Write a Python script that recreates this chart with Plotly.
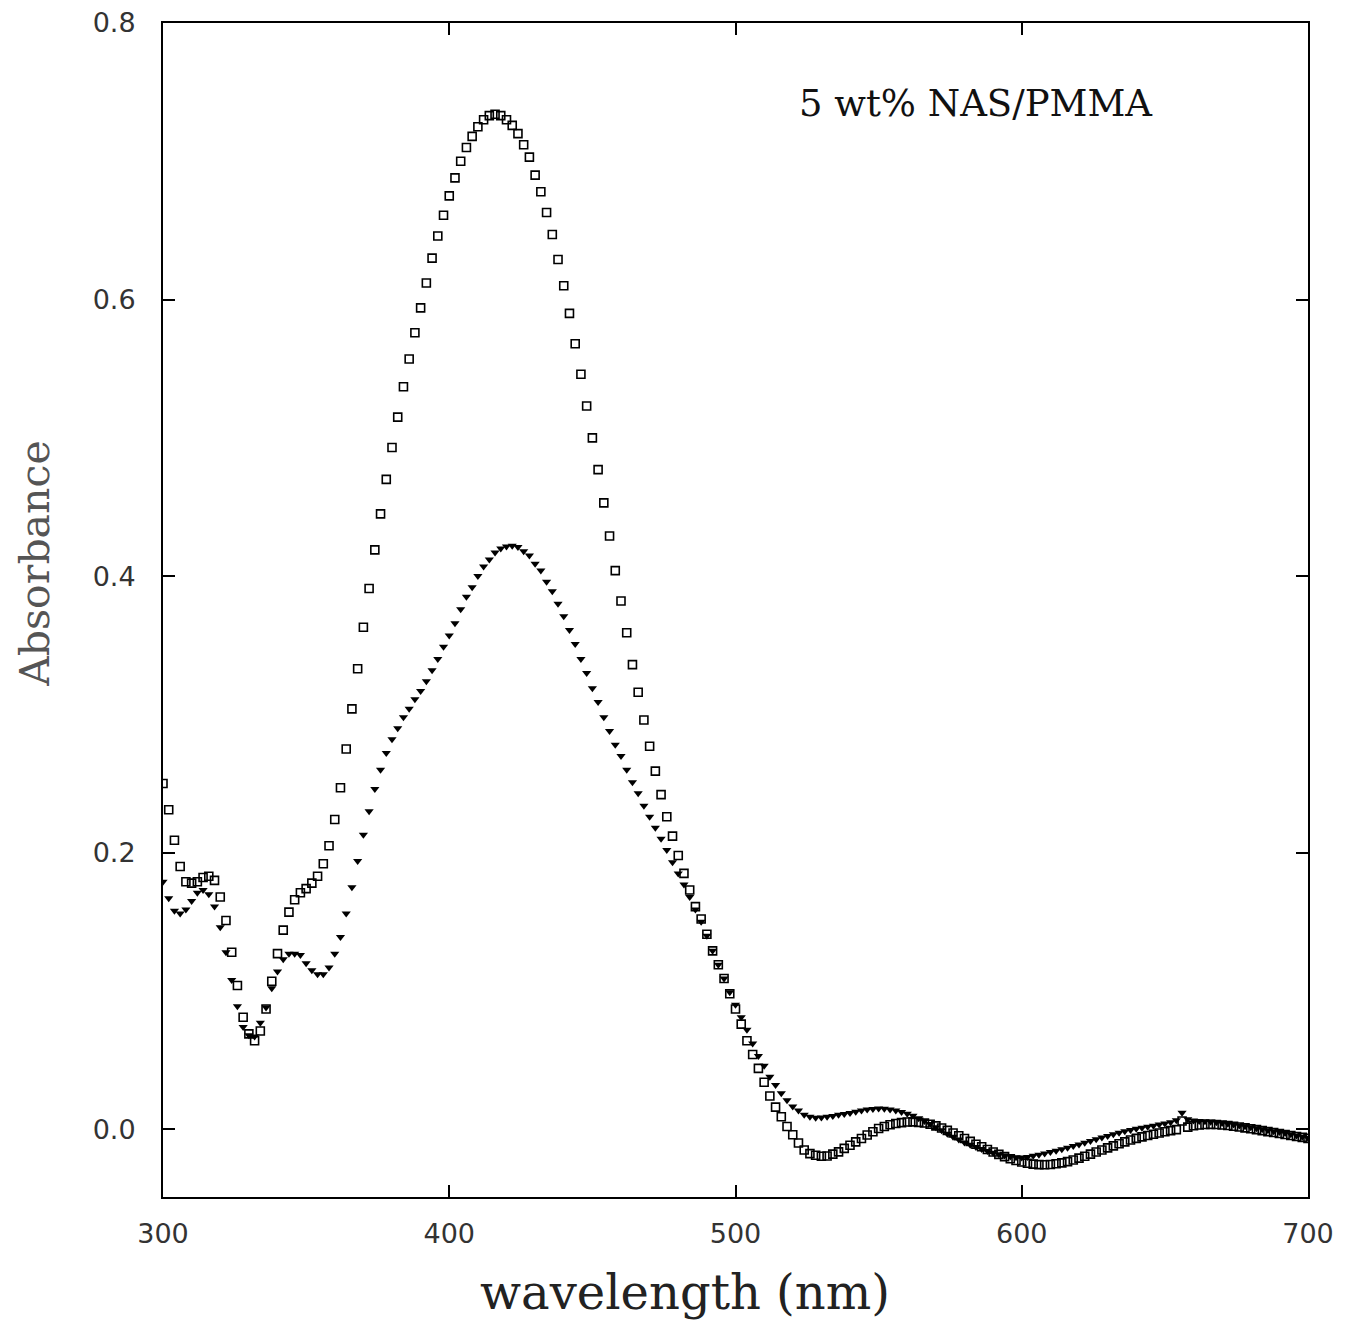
import plotly.graph_objects as go

# wavelength grid (nm), one reading every 2 nm
wavelength = list(range(300, 702, 2))

# open squares
abs_squares = [
    0.250, 0.231, 0.209, 0.190, 0.179, 0.178, 0.179, 0.182, 0.183, 0.180,
    0.168, 0.151, 0.128, 0.104, 0.081, 0.069, 0.064, 0.071, 0.087, 0.107,
    0.127, 0.144, 0.157, 0.166, 0.171, 0.174, 0.178, 0.183, 0.192, 0.205,
    0.224, 0.247, 0.275, 0.304, 0.333, 0.363, 0.391, 0.419, 0.445, 0.470,
    0.493, 0.515, 0.537, 0.557, 0.576, 0.594, 0.612, 0.630, 0.646, 0.661,
    0.675, 0.688, 0.700, 0.710, 0.718, 0.725, 0.730, 0.733, 0.734, 0.733,
    0.730, 0.726, 0.720, 0.712, 0.703, 0.690, 0.678, 0.663, 0.647, 0.629,
    0.610, 0.590, 0.568, 0.546, 0.523, 0.500, 0.477, 0.453, 0.429, 0.404,
    0.382, 0.359, 0.336, 0.316, 0.296, 0.277, 0.259, 0.242, 0.226, 0.212,
    0.198, 0.185, 0.173, 0.161, 0.152, 0.141, 0.129, 0.119, 0.109, 0.098,
    0.087, 0.076, 0.064, 0.054, 0.044, 0.034, 0.024, 0.016, 0.009, 0.002,
    -0.004, -0.010, -0.015, -0.0176, -0.0188, -0.0195, -0.0193, -0.018, -0.0164, -0.0138,
    -0.0116, -0.0091, -0.0067, -0.0042, -0.0018, 0.0005, 0.0020, 0.0032, 0.0041, 0.0048,
    0.0052, 0.0053, 0.0050, 0.0045, 0.0036, 0.0024, 0.0009, -0.0008, -0.0027, -0.0047,
    -0.0067, -0.0088, -0.0108, -0.0127, -0.0146, -0.0165, -0.0182, -0.0198, -0.0213, -0.0226,
    -0.0237, -0.0246, -0.0252, -0.0256, -0.0257, -0.0255, -0.0250, -0.0243, -0.0234, -0.0222,
    -0.0209, -0.0195, -0.0180, -0.0165, -0.0150, -0.0135, -0.0120, -0.0105, -0.0091, -0.0078,
    -0.0066, -0.0055, -0.0045, -0.0036, -0.0027, -0.0018, -0.0010, -0.0003, 0.0060, 0.0015,
    0.0025, 0.0031, 0.0034, 0.0035, 0.0034, 0.0031, 0.0027, 0.0022, 0.0016, 0.0010,
    0.0004, -0.0003, -0.0010, -0.0017, -0.0024, -0.0031, -0.0038, -0.0045, -0.0052, -0.0059,
    -0.0066,
]

# filled down triangles
abs_triangles = [
    0.179, 0.167, 0.158, 0.156, 0.159, 0.165, 0.171, 0.173, 0.170, 0.161,
    0.146, 0.128, 0.108, 0.089, 0.074, 0.068, 0.067, 0.077, 0.088, 0.102,
    0.114, 0.123, 0.127, 0.127, 0.126, 0.120, 0.115, 0.112, 0.112, 0.117,
    0.127, 0.139, 0.156, 0.175, 0.194, 0.213, 0.230, 0.246, 0.260, 0.272,
    0.282, 0.290, 0.298, 0.304, 0.311, 0.317, 0.324, 0.332, 0.340, 0.349,
    0.357, 0.366, 0.376, 0.385, 0.392, 0.400, 0.407, 0.412, 0.417, 0.420,
    0.4215, 0.422, 0.421, 0.418, 0.415, 0.409, 0.404, 0.396, 0.389, 0.380,
    0.371, 0.361, 0.351, 0.340, 0.330, 0.319, 0.309, 0.298, 0.288, 0.278,
    0.270, 0.260, 0.251, 0.243, 0.234, 0.226, 0.218, 0.210, 0.202, 0.193,
    0.185, 0.177, 0.168, 0.159, 0.150, 0.140, 0.129, 0.119, 0.109, 0.099,
    0.090, 0.081, 0.072, 0.062, 0.053, 0.046, 0.038, 0.032, 0.026, 0.021,
    0.0165, 0.0135, 0.0105, 0.0090, 0.0083, 0.0085, 0.0090, 0.0096, 0.0104, 0.0111,
    0.0118, 0.0126, 0.0135, 0.0142, 0.0147, 0.0150, 0.0148, 0.0143, 0.0135, 0.0125,
    0.0112, 0.0097, 0.0080, 0.0060, 0.0038, 0.0015, -0.0008, -0.0033, -0.0055, -0.0075,
    -0.0095, -0.0112, -0.0128, -0.0143, -0.0157, -0.0170, -0.0180, -0.0190, -0.0197, -0.0202,
    -0.0204, -0.0200, -0.0192, -0.0184, -0.0175, -0.0165, -0.0155, -0.0145, -0.0134, -0.0122,
    -0.0110, -0.0098, -0.0085, -0.0073, -0.0060, -0.0048, -0.0036, -0.0025, -0.0015, -0.0006,
    0.0003, 0.0010, 0.0018, 0.0026, 0.0034, 0.0042, 0.0050, 0.0065, 0.0120, 0.0072,
    0.0063, 0.0060, 0.0057, 0.0054, 0.0050, 0.0045, 0.0040, 0.0034, 0.0027, 0.0021,
    0.0014, 0.0007, 0.0000, -0.0007, -0.0014, -0.0020, -0.0028, -0.0036, -0.0045, -0.0054,
    -0.0064,
]

x_ticks = [300, 400, 500, 600, 700]
y_ticks = [0.0, 0.2, 0.4, 0.6, 0.8]

fig = go.Figure()

fig.add_trace(go.Scatter(
    x=wavelength, y=abs_squares, mode='markers', name='squares',
    marker=dict(symbol='square-open', size=8, color='black', line=dict(width=1.6, color='black'))
))
fig.add_trace(go.Scatter(
    x=wavelength, y=abs_triangles, mode='markers', name='triangles',
    marker=dict(symbol='triangle-down', size=8, color='black', line=dict(width=0))
))

serif = "DejaVu Serif"
sans = "DejaVu Sans"

fig.add_annotation(x=584, y=0.742, xref='x', yref='y', text="5 wt% NAS/PMMA", showarrow=False,
                   font=dict(family=serif, size=37, color='#111'), xanchor='center', yanchor='middle')
fig.add_annotation(x=0.456, y=-0.081, xref='paper', yref='paper', text="wavelength (nm)", showarrow=False,
                   font=dict(family=serif, size=48, color='#222'), xanchor='center', yanchor='middle',
                   borderpad=0)
fig.add_annotation(x=-0.112, y=0.54, xref='paper', yref='paper', text="Absorbance", showarrow=False,
                   textangle=-90, font=dict(family=serif, size=41, color='#555'),
                   xanchor='center', yanchor='middle', borderpad=0)

# the page puts an 8 px margin round the figure, so keep it inside the window
fig.update_layout(
    width=1335, height=1315,
    margin=dict(l=155, r=35, t=15, b=126),
    plot_bgcolor='white', paper_bgcolor='white',
    showlegend=False,
)

fig.update_xaxes(
    range=[300, 700], tickvals=x_ticks, ticktext=[str(v) for v in x_ticks],
    showgrid=False, zeroline=False, showline=True, linecolor='black', linewidth=2,
    mirror='allticks', ticks='inside', ticklen=12, tickwidth=1.5, tickcolor='black',
    tickfont=dict(family=sans, size=27, color='#333'), ticklabelstandoff=12,
    ticklabeloverflow='allow', automargin=False,
)
fig.update_yaxes(
    range=[-0.049, 0.8], tickvals=y_ticks, ticktext=["%.1f" % v for v in y_ticks],
    showgrid=False, zeroline=False, showline=True, linecolor='black', linewidth=2,
    mirror='allticks', ticks='inside', ticklen=12, tickwidth=1.5, tickcolor='black',
    tickfont=dict(family=sans, size=27, color='#333'), ticklabelstandoff=20,
    ticklabeloverflow='allow', automargin=False,
)

fig.write_html("out.html")
